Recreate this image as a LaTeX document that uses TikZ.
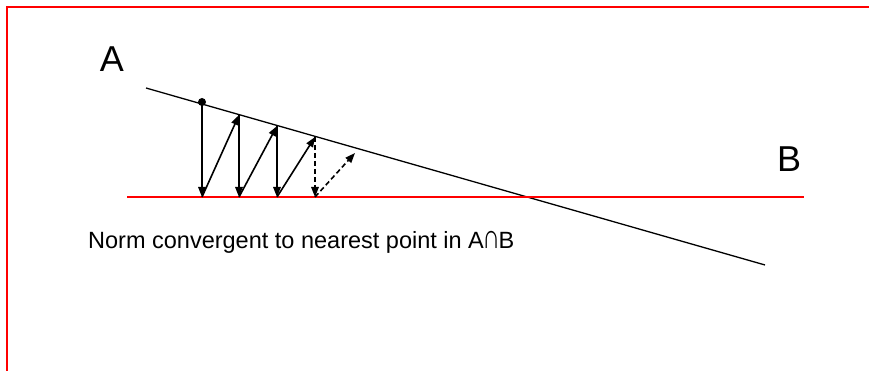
\documentclass[tikz,border=0pt]{standalone}
\usepackage{fontspec}
\setmainfont{Liberation Sans}
\usetikzlibrary{arrows.meta}

\begin{document}
\begin{tikzpicture}[
    x=1pt, y=-1pt,
    frame/.style={red, line width=1.2pt},
    setline/.style={line width=1.3pt},
    proj/.style={-{Triangle[length=10pt, width=7.5pt]}, line width=1.6pt},
    projdash/.style={proj, dash pattern=on 5pt off 3pt},
    lbl/.style={font=\fontsize{36}{40}\selectfont, inner sep=0pt}
]
\useasboundingbox (0,0) rectangle (869,371);
\draw[frame] (869,7) -- (7,7) -- (7,371);

% the two sets
\coordinate (a0) at (146,88);
\coordinate (a1) at (765,265);
\coordinate (b0) at (127,197);
\coordinate (b1) at (804,197);
\draw[setline] (a0) -- (a1);
\draw[frame] (b0) -- (b1);
\node[lbl] (la) at (112,59) {A};
\node[lbl] (lb) at (789,159) {B};

% alternating projections
\coordinate (p0) at (202,102);
\coordinate (q0) at (202,197);
\coordinate (p1) at (239,115);
\coordinate (q1) at (239,197);
\coordinate (p2) at (277,126);
\coordinate (q2) at (277,197);
\coordinate (p3) at (315,137);
\coordinate (q3) at (315,197);
\coordinate (p4) at (355,153);
\fill (p0) circle (4pt);
\draw[proj] (p0) -- (q0);
\draw[proj] (q0) -- (p1);
\draw[proj] (p1) -- (q1);
\draw[proj] (q1) -- (p2);
\draw[proj] (p2) -- (q2);
\draw[proj] (q2) -- (p3);
\draw[projdash] (p3) -- (q3);
\draw[projdash] (q3) -- (p4);

\node[font=\fontsize{23.5}{28}\selectfont, anchor=west, inner sep=0pt] (cap) at (88,242)
    {Norm convergent to nearest point in A\kern-1.5pt\scalebox{1.05}[1.45]{∩}\kern-1.5pt B};
\end{tikzpicture}
\end{document}
